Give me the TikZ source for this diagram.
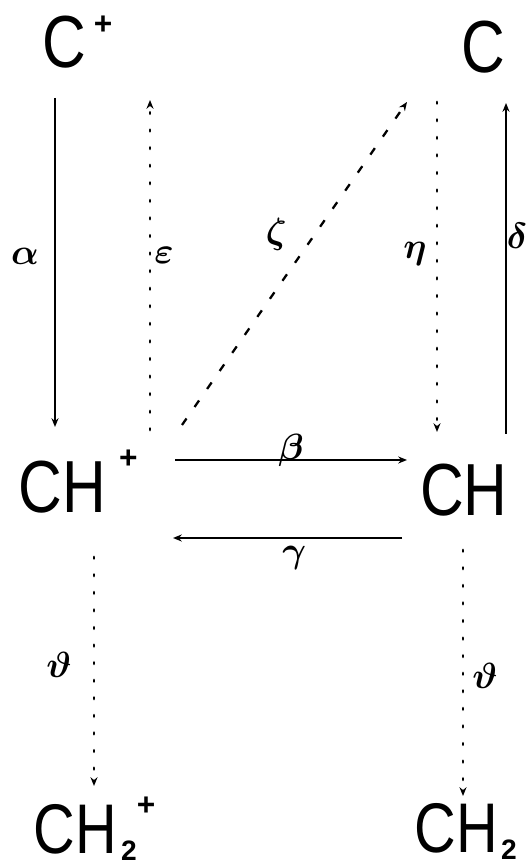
\documentclass[tikz,border=0pt]{standalone}
\usepackage{amsmath}
\usepackage{graphicx}
\usepackage{fontspec}
\setmainfont{Liberation Sans}
\usetikzlibrary{arrows.meta,calc}

% narrow lettering of the species
\newcommand{\narrowtxt}[1]{\scalebox{0.82}[1]{#1}}
\newcommand{\chgplus}[2]{\rlap{\smash{\kern#1\raisebox{#2}{\fontsize{18}{18}\selectfont\bfseries +}}}}

\begin{document}
\begin{tikzpicture}[
  species/.style={font=\fontsize{42}{42}\selectfont, inner sep=0pt},
  lowspecies/.style={font=\fontsize{40}{40}\selectfont, inner sep=0pt},
  lbl/.style={font=\fontsize{20}{20}\selectfont, inner sep=0pt},
  tip/.style={-{Stealth[length=5pt,width=4pt]}},
  solidarr/.style={tip, line width=1.1pt},
  dotarr/.style={tip, line width=1.7pt, line cap=round, dash pattern=on 0.8pt off 9.2pt},
  dasharr/.style={tip, line width=1.3pt, dash pattern=on 4.5pt off 8pt}
]
\useasboundingbox (0,0) rectangle (10.56,17.34);
% species
\node[species] (cp) at (1.28,16.49) {\narrowtxt{C}\chgplus{0.16cm}{19pt}};
\node[species] (c) at (9.66,16.39) {\narrowtxt{C}};
\node[species] (chp) at (1.25,7.60) {\narrowtxt{CH}\chgplus{0.26cm}{25pt}};
\node[species] (ch) at (9.28,7.54) {\narrowtxt{CH}};
\node[lowspecies] (chtp) at (1.51,0.75) {\narrowtxt{CH}\rlap{\smash{\kern0.08cm\raisebox{-4pt}{\fontsize{16}{16}\selectfont\bfseries 2}\raisebox{22pt}{\fontsize{18}{18}\selectfont\bfseries +}}}};
\node[lowspecies] (cht) at (9.13,0.78) {\narrowtxt{CH}\rlap{\smash{\kern0.06cm\raisebox{-4pt}{\fontsize{16}{16}\selectfont\bfseries 2}}}};
% C+ -> CH+ and back
\draw[solidarr] ($(cp)+(-0.18,-1.11)$) -- node[lbl, pos=0.48, xshift=-0.6cm] (la) {$\boldsymbol{\alpha}$} ($(cp |- chp)+(-0.18,1.20)$);
\draw[dotarr] ($(chp)+(1.75,1.14)$) -- node[lbl, pos=0.53, xshift=0.28cm] (le) {$\boldsymbol{\varepsilon}$} ($(chp |- cp)+(1.75,-1.15)$);
% CH+ -> C
\draw[dasharr] ($(chp)+(2.39,1.24)$) -- node[lbl, pos=0.59, xshift=-0.77cm] (lz) {$\boldsymbol{\zeta}$} ($(c)+(-1.52,-1.09)$);
% C -> CH and back
\draw[dotarr] ($(c)+(-0.92,-1.09)$) -- node[lbl, pos=0.46, xshift=-0.44cm] (lh) {$\boldsymbol{\eta}$} ($(c |- ch)+(-0.92,1.16)$);
\draw[solidarr] ($(ch)+(0.84,1.12)$) -- node[lbl, pos=0.60, xshift=0.22cm] (ld) {$\boldsymbol{\delta}$} ($(ch |- c)+(0.84,-1.11)$);
% CH+ <-> CH
\draw[solidarr] ($(chp)+(2.25,0.54)$) -- node[lbl, pos=0.5, yshift=0.2cm] (lb) {$\boldsymbol{\beta}$} ($(chp -| ch)+(-1.14,0.54)$);
\draw[solidarr] ($(ch)+(-1.24,-0.96)$) -- node[lbl, pos=0.47, yshift=-0.4cm] (lg) {$\boldsymbol{\gamma}$} ($(ch -| chp)+(2.21,-0.96)$);
% to CH2
\draw[dotarr] ($(chp)+(0.63,-1.40)$) -- node[lbl, pos=0.47, xshift=-0.7cm] (lt1) {$\boldsymbol{\vartheta}$} ($(chp |- chtp)+(0.63,0.87)$);
\draw[dotarr] ($(ch)+(-0.02,-1.20)$) -- node[lbl, pos=0.51, xshift=0.44cm] (lt2) {$\boldsymbol{\vartheta}$} ($(ch |- cht)+(-0.02,0.64)$);
\end{tikzpicture}
\end{document}
